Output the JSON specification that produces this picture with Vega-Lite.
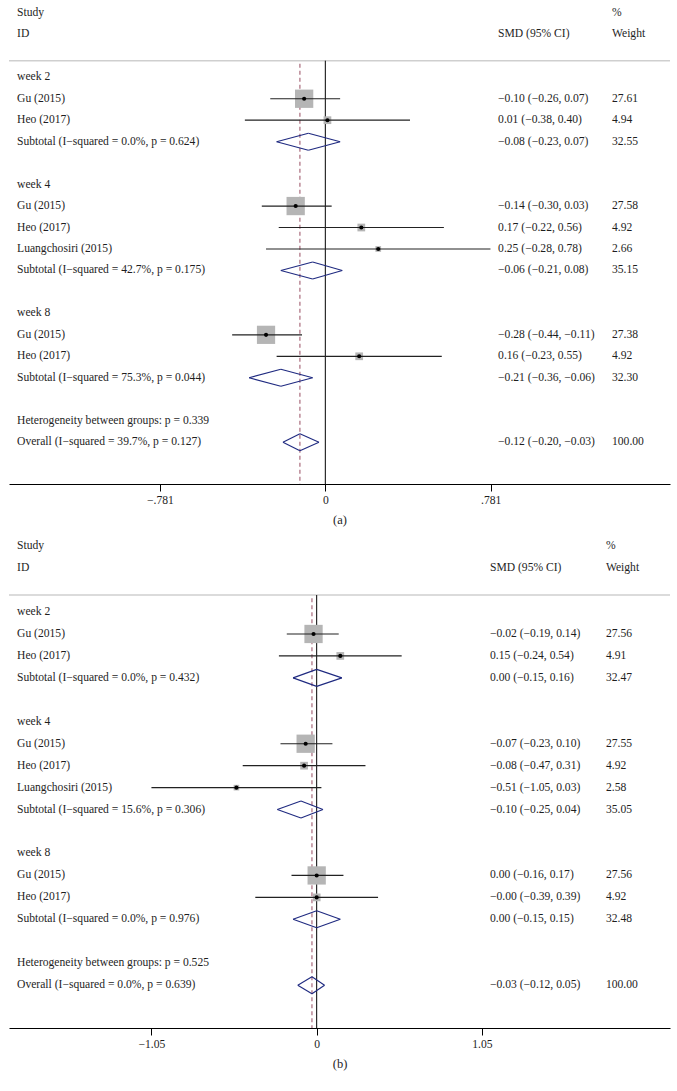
{
  "$schema": "https://vega.github.io/schema/vega-lite/v6.json",
  "background": "white",
  "padding": {"left": 8, "top": 0, "right": 8, "bottom": 0},
  "spacing": 6,
  "config": {
    "font": "Liberation Serif",
    "view": {"stroke": null},
    "text": {"font": "Liberation Serif", "fontSize": 11.6, "color": "#1e1e1e", "baseline": "middle", "align": "left"},
    "axisX": {"domainColor": "#000", "domainWidth": 1, "tickColor": "#000", "tickSize": 7, "tickWidth": 1, "labelFont": "Liberation Serif", "labelFontSize": 11.6, "labelColor": "#1e1e1e", "labelPadding": 3, "labelFlush": false, "titleFont": "Liberation Serif", "titleFontSize": 12.5, "titleFontWeight": "normal", "titleColor": "#1e1e1e", "titlePadding": 8, "grid": false}
  },
  "datasets": {
    "a": [
      {"row": -2, "id": "Study", "smd": "", "wt": "%", "type": "head"},
      {"row": -1, "id": "ID", "smd": "SMD (95% CI)", "wt": "Weight", "type": "head"},
      {"row": 1, "id": "week 2", "smd": "", "wt": "", "type": "group"},
      {"row": 2, "id": "Gu (2015)", "type": "study", "est": -0.10, "lo": -0.26, "hi": 0.07, "w": 27.61, "smd": "−0.10 (−0.26, 0.07)", "wt": "27.61"},
      {"row": 3, "id": "Heo (2017)", "type": "study", "est": 0.01, "lo": -0.38, "hi": 0.40, "w": 4.94, "smd": "0.01 (−0.38, 0.40)", "wt": "4.94"},
      {"row": 4, "id": "Subtotal (I−squared = 0.0%, p = 0.624)", "type": "subtotal", "est": -0.08, "lo": -0.23, "hi": 0.07, "w": 32.55, "smd": "−0.08 (−0.23, 0.07)", "wt": "32.55"},
      {"row": 6, "id": "week 4", "smd": "", "wt": "", "type": "group"},
      {"row": 7, "id": "Gu (2015)", "type": "study", "est": -0.14, "lo": -0.30, "hi": 0.03, "w": 27.58, "smd": "−0.14 (−0.30, 0.03)", "wt": "27.58"},
      {"row": 8, "id": "Heo (2017)", "type": "study", "est": 0.17, "lo": -0.22, "hi": 0.56, "w": 4.92, "smd": "0.17 (−0.22, 0.56)", "wt": "4.92"},
      {"row": 9, "id": "Luangchosiri (2015)", "type": "study", "est": 0.25, "lo": -0.28, "hi": 0.78, "w": 2.66, "smd": "0.25 (−0.28, 0.78)", "wt": "2.66"},
      {"row": 10, "id": "Subtotal (I−squared = 42.7%, p = 0.175)", "type": "subtotal", "est": -0.06, "lo": -0.21, "hi": 0.08, "w": 35.15, "smd": "−0.06 (−0.21, 0.08)", "wt": "35.15"},
      {"row": 12, "id": "week 8", "smd": "", "wt": "", "type": "group"},
      {"row": 13, "id": "Gu (2015)", "type": "study", "est": -0.28, "lo": -0.44, "hi": -0.11, "w": 27.38, "smd": "−0.28 (−0.44, −0.11)", "wt": "27.38"},
      {"row": 14, "id": "Heo (2017)", "type": "study", "est": 0.16, "lo": -0.23, "hi": 0.55, "w": 4.92, "smd": "0.16 (−0.23, 0.55)", "wt": "4.92"},
      {"row": 15, "id": "Subtotal (I−squared = 75.3%, p = 0.044)", "type": "subtotal", "est": -0.21, "lo": -0.36, "hi": -0.06, "w": 32.30, "smd": "−0.21 (−0.36, −0.06)", "wt": "32.30"},
      {"row": 17, "id": "Heterogeneity between groups: p = 0.339", "smd": "", "wt": "", "type": "het"},
      {"row": 18, "id": "Overall (I−squared = 39.7%, p = 0.127)", "type": "overall", "est": -0.12, "lo": -0.20, "hi": -0.03, "w": 100.00, "smd": "−0.12 (−0.20, −0.03)", "wt": "100.00"}
    ],
    "b": [
      {"row": -2, "id": "Study", "smd": "", "wt": "%", "type": "head"},
      {"row": -1, "id": "ID", "smd": "SMD (95% CI)", "wt": "Weight", "type": "head"},
      {"row": 1, "id": "week 2", "smd": "", "wt": "", "type": "group"},
      {"row": 2, "id": "Gu (2015)", "type": "study", "est": -0.02, "lo": -0.19, "hi": 0.14, "w": 27.56, "smd": "−0.02 (−0.19, 0.14)", "wt": "27.56"},
      {"row": 3, "id": "Heo (2017)", "type": "study", "est": 0.15, "lo": -0.24, "hi": 0.54, "w": 4.91, "smd": "0.15 (−0.24, 0.54)", "wt": "4.91"},
      {"row": 4, "id": "Subtotal (I−squared = 0.0%, p = 0.432)", "type": "subtotal", "est": 0.00, "lo": -0.15, "hi": 0.16, "w": 32.47, "smd": "0.00 (−0.15, 0.16)", "wt": "32.47"},
      {"row": 6, "id": "week 4", "smd": "", "wt": "", "type": "group"},
      {"row": 7, "id": "Gu (2015)", "type": "study", "est": -0.07, "lo": -0.23, "hi": 0.10, "w": 27.55, "smd": "−0.07 (−0.23, 0.10)", "wt": "27.55"},
      {"row": 8, "id": "Heo (2017)", "type": "study", "est": -0.08, "lo": -0.47, "hi": 0.31, "w": 4.92, "smd": "−0.08 (−0.47, 0.31)", "wt": "4.92"},
      {"row": 9, "id": "Luangchosiri (2015)", "type": "study", "est": -0.51, "lo": -1.05, "hi": 0.03, "w": 2.58, "smd": "−0.51 (−1.05, 0.03)", "wt": "2.58"},
      {"row": 10, "id": "Subtotal (I−squared = 15.6%, p = 0.306)", "type": "subtotal", "est": -0.10, "lo": -0.25, "hi": 0.04, "w": 35.05, "smd": "−0.10 (−0.25, 0.04)", "wt": "35.05"},
      {"row": 12, "id": "week 8", "smd": "", "wt": "", "type": "group"},
      {"row": 13, "id": "Gu (2015)", "type": "study", "est": 0.00, "lo": -0.16, "hi": 0.17, "w": 27.56, "smd": "0.00 (−0.16, 0.17)", "wt": "27.56"},
      {"row": 14, "id": "Heo (2017)", "type": "study", "est": -0.00, "lo": -0.39, "hi": 0.39, "w": 4.92, "smd": "−0.00 (−0.39, 0.39)", "wt": "4.92"},
      {"row": 15, "id": "Subtotal (I−squared = 0.0%, p = 0.976)", "type": "subtotal", "est": 0.00, "lo": -0.15, "hi": 0.15, "w": 32.48, "smd": "0.00 (−0.15, 0.15)", "wt": "32.48"},
      {"row": 17, "id": "Heterogeneity between groups: p = 0.525", "smd": "", "wt": "", "type": "het"},
      {"row": 18, "id": "Overall (I−squared = 0.0%, p = 0.639)", "type": "overall", "est": -0.03, "lo": -0.12, "hi": 0.05, "w": 100.00, "smd": "−0.03 (−0.12, 0.05)", "wt": "100.00"}
    ]
  },
  "vconcat": [
    {
      "width": 661,
      "height": 484,
      "data": {"name": "a"},
      "layer": [
        {
          "data": {"values": [{}]},
          "mark": {"type": "rule", "color": "#cfcfcf", "strokeWidth": 1.5},
          "encoding": {
            "y": {"datum": 0.227, "type": "quantitative", "scale": {"domain": [-2.6, 19.95], "reverse": true, "nice": false, "zero": false}, "axis": null}
          }
        },
        {
          "data": {"values": [{}]},
          "mark": {"type": "rule", "color": "#000", "strokeWidth": 1},
          "encoding": {
            "x": {"datum": 0, "type": "quantitative", "scale": {"domain": [-1.494, 1.628], "nice": false, "zero": false}, "axis": {"values": [-0.781, 0, 0.781], "labelExpr": "datum.value < 0 ? '−.781' : (datum.value > 0 ? '.781' : '0')", "title": "(a)"}},
            "y": {"datum": 0.227, "type": "quantitative", "scale": {"domain": [-2.6, 19.95], "reverse": true, "nice": false, "zero": false}, "axis": null},
            "y2": {"datum": 19.95}
          }
        },
        {
          "transform": [{"filter": "datum.type === 'overall'"}],
          "mark": {"type": "rule", "color": "#a96a7c", "strokeWidth": 1.2, "strokeDash": [4, 3]},
          "encoding": {
            "x": {"field": "est", "type": "quantitative", "scale": {"domain": [-1.494, 1.628], "nice": false, "zero": false}, "axis": {"values": [-0.781, 0, 0.781], "labelExpr": "datum.value < 0 ? '−.781' : (datum.value > 0 ? '.781' : '0')", "title": "(a)"}},
            "y": {"datum": 0.37, "type": "quantitative", "scale": {"domain": [-2.6, 19.95], "reverse": true, "nice": false, "zero": false}, "axis": null},
            "y2": {"datum": 19.95}
          }
        },
        {
          "transform": [{"filter": "datum.type === 'study'"}],
          "mark": {"type": "point", "shape": "square", "filled": true, "color": "#b5b5b5", "opacity": 1},
          "encoding": {
            "x": {"field": "est", "type": "quantitative", "scale": {"domain": [-1.494, 1.628], "nice": false, "zero": false}, "axis": {"values": [-0.781, 0, 0.781], "labelExpr": "datum.value < 0 ? '−.781' : (datum.value > 0 ? '.781' : '0')", "title": "(a)"}},
            "y": {"field": "row", "type": "quantitative", "scale": {"domain": [-2.6, 19.95], "reverse": true, "nice": false, "zero": false}, "axis": null},
            "size": {"field": "w", "type": "quantitative", "scale": {"type": "linear", "domain": [0, 100], "range": [0, 1213], "zero": true}, "legend": null}
          }
        },
        {
          "transform": [{"filter": "datum.type === 'study'"}],
          "mark": {"type": "rule", "color": "#222", "strokeWidth": 1.2},
          "encoding": {
            "x": {"field": "lo", "type": "quantitative", "scale": {"domain": [-1.494, 1.628], "nice": false, "zero": false}, "axis": {"values": [-0.781, 0, 0.781], "labelExpr": "datum.value < 0 ? '−.781' : (datum.value > 0 ? '.781' : '0')", "title": "(a)"}},
            "x2": {"field": "hi"},
            "y": {"field": "row", "type": "quantitative", "scale": {"domain": [-2.6, 19.95], "reverse": true, "nice": false, "zero": false}, "axis": null}
          }
        },
        {
          "transform": [{"filter": "datum.type === 'study'"}],
          "mark": {"type": "point", "shape": "circle", "filled": true, "color": "#000", "opacity": 1, "size": 17},
          "encoding": {
            "x": {"field": "est", "type": "quantitative", "scale": {"domain": [-1.494, 1.628], "nice": false, "zero": false}, "axis": {"values": [-0.781, 0, 0.781], "labelExpr": "datum.value < 0 ? '−.781' : (datum.value > 0 ? '.781' : '0')", "title": "(a)"}},
            "y": {"field": "row", "type": "quantitative", "scale": {"domain": [-2.6, 19.95], "reverse": true, "nice": false, "zero": false}, "axis": null}
          }
        },
        {
          "transform": [{"filter": "datum.type === 'subtotal' || datum.type === 'overall'"}],
          "mark": {"type": "rule", "color": "#1f2a80", "strokeWidth": 1.1, "y2Offset": -8.5},
          "encoding": {
            "x": {"field": "lo", "type": "quantitative", "scale": {"domain": [-1.494, 1.628], "nice": false, "zero": false}, "axis": {"values": [-0.781, 0, 0.781], "labelExpr": "datum.value < 0 ? '−.781' : (datum.value > 0 ? '.781' : '0')", "title": "(a)"}},
            "x2": {"field": "est"},
            "y": {"field": "row", "type": "quantitative", "scale": {"domain": [-2.6, 19.95], "reverse": true, "nice": false, "zero": false}, "axis": null},
            "y2": {"field": "row"}
          }
        },
        {
          "transform": [{"filter": "datum.type === 'subtotal' || datum.type === 'overall'"}],
          "mark": {"type": "rule", "color": "#1f2a80", "strokeWidth": 1.1, "yOffset": -8.5},
          "encoding": {
            "x": {"field": "est", "type": "quantitative", "scale": {"domain": [-1.494, 1.628], "nice": false, "zero": false}, "axis": {"values": [-0.781, 0, 0.781], "labelExpr": "datum.value < 0 ? '−.781' : (datum.value > 0 ? '.781' : '0')", "title": "(a)"}},
            "x2": {"field": "hi"},
            "y": {"field": "row", "type": "quantitative", "scale": {"domain": [-2.6, 19.95], "reverse": true, "nice": false, "zero": false}, "axis": null},
            "y2": {"field": "row"}
          }
        },
        {
          "transform": [{"filter": "datum.type === 'subtotal' || datum.type === 'overall'"}],
          "mark": {"type": "rule", "color": "#1f2a80", "strokeWidth": 1.1, "y2Offset": 8.5},
          "encoding": {
            "x": {"field": "hi", "type": "quantitative", "scale": {"domain": [-1.494, 1.628], "nice": false, "zero": false}, "axis": {"values": [-0.781, 0, 0.781], "labelExpr": "datum.value < 0 ? '−.781' : (datum.value > 0 ? '.781' : '0')", "title": "(a)"}},
            "x2": {"field": "est"},
            "y": {"field": "row", "type": "quantitative", "scale": {"domain": [-2.6, 19.95], "reverse": true, "nice": false, "zero": false}, "axis": null},
            "y2": {"field": "row"}
          }
        },
        {
          "transform": [{"filter": "datum.type === 'subtotal' || datum.type === 'overall'"}],
          "mark": {"type": "rule", "color": "#1f2a80", "strokeWidth": 1.1, "yOffset": 8.5},
          "encoding": {
            "x": {"field": "est", "type": "quantitative", "scale": {"domain": [-1.494, 1.628], "nice": false, "zero": false}, "axis": {"values": [-0.781, 0, 0.781], "labelExpr": "datum.value < 0 ? '−.781' : (datum.value > 0 ? '.781' : '0')", "title": "(a)"}},
            "x2": {"field": "lo"},
            "y": {"field": "row", "type": "quantitative", "scale": {"domain": [-2.6, 19.95], "reverse": true, "nice": false, "zero": false}, "axis": null},
            "y2": {"field": "row"}
          }
        },
        {
          "mark": {"type": "text"},
          "encoding": {
            "x": {"datum": -1.456, "type": "quantitative", "scale": {"domain": [-1.494, 1.628], "nice": false, "zero": false}, "axis": {"values": [-0.781, 0, 0.781], "labelExpr": "datum.value < 0 ? '−.781' : (datum.value > 0 ? '.781' : '0')", "title": "(a)"}},
            "y": {"field": "row", "type": "quantitative", "scale": {"domain": [-2.6, 19.95], "reverse": true, "nice": false, "zero": false}, "axis": null},
            "text": {"field": "id"}
          }
        },
        {
          "mark": {"type": "text"},
          "encoding": {
            "x": {"datum": 0.816, "type": "quantitative", "scale": {"domain": [-1.494, 1.628], "nice": false, "zero": false}, "axis": {"values": [-0.781, 0, 0.781], "labelExpr": "datum.value < 0 ? '−.781' : (datum.value > 0 ? '.781' : '0')", "title": "(a)"}},
            "y": {"field": "row", "type": "quantitative", "scale": {"domain": [-2.6, 19.95], "reverse": true, "nice": false, "zero": false}, "axis": null},
            "text": {"field": "smd"}
          }
        },
        {
          "mark": {"type": "text"},
          "encoding": {
            "x": {"datum": 1.354, "type": "quantitative", "scale": {"domain": [-1.494, 1.628], "nice": false, "zero": false}, "axis": {"values": [-0.781, 0, 0.781], "labelExpr": "datum.value < 0 ? '−.781' : (datum.value > 0 ? '.781' : '0')", "title": "(a)"}},
            "y": {"field": "row", "type": "quantitative", "scale": {"domain": [-2.6, 19.95], "reverse": true, "nice": false, "zero": false}, "axis": null},
            "text": {"field": "wt"}
          }
        }
      ]
    },
    {
      "width": 661,
      "height": 495,
      "data": {"name": "b"},
      "layer": [
        {
          "data": {"values": [{}]},
          "mark": {"type": "rule", "color": "#cfcfcf", "strokeWidth": 1.5},
          "encoding": {
            "y": {"datum": 0.227, "type": "quantitative", "scale": {"domain": [-2.6, 19.95], "reverse": true, "nice": false, "zero": false}, "axis": null}
          }
        },
        {
          "data": {"values": [{}]},
          "mark": {"type": "rule", "color": "#000", "strokeWidth": 1},
          "encoding": {
            "x": {"datum": 0, "type": "quantitative", "scale": {"domain": [-1.955, 2.245], "nice": false, "zero": false}, "axis": {"values": [-1.05, 0, 1.05], "labelExpr": "datum.value < 0 ? '−1.05' : (datum.value > 0 ? '1.05' : '0')", "title": "(b)"}},
            "y": {"datum": 0.227, "type": "quantitative", "scale": {"domain": [-2.6, 19.95], "reverse": true, "nice": false, "zero": false}, "axis": null},
            "y2": {"datum": 19.95}
          }
        },
        {
          "transform": [{"filter": "datum.type === 'overall'"}],
          "mark": {"type": "rule", "color": "#a96a7c", "strokeWidth": 1.2, "strokeDash": [4, 3]},
          "encoding": {
            "x": {"field": "est", "type": "quantitative", "scale": {"domain": [-1.955, 2.245], "nice": false, "zero": false}, "axis": {"values": [-1.05, 0, 1.05], "labelExpr": "datum.value < 0 ? '−1.05' : (datum.value > 0 ? '1.05' : '0')", "title": "(b)"}},
            "y": {"datum": 0.37, "type": "quantitative", "scale": {"domain": [-2.6, 19.95], "reverse": true, "nice": false, "zero": false}, "axis": null},
            "y2": {"datum": 19.95}
          }
        },
        {
          "transform": [{"filter": "datum.type === 'study'"}],
          "mark": {"type": "point", "shape": "square", "filled": true, "color": "#b5b5b5", "opacity": 1},
          "encoding": {
            "x": {"field": "est", "type": "quantitative", "scale": {"domain": [-1.955, 2.245], "nice": false, "zero": false}, "axis": {"values": [-1.05, 0, 1.05], "labelExpr": "datum.value < 0 ? '−1.05' : (datum.value > 0 ? '1.05' : '0')", "title": "(b)"}},
            "y": {"field": "row", "type": "quantitative", "scale": {"domain": [-2.6, 19.95], "reverse": true, "nice": false, "zero": false}, "axis": null},
            "size": {"field": "w", "type": "quantitative", "scale": {"type": "linear", "domain": [0, 100], "range": [0, 1213], "zero": true}, "legend": null}
          }
        },
        {
          "transform": [{"filter": "datum.type === 'study'"}],
          "mark": {"type": "rule", "color": "#222", "strokeWidth": 1.2},
          "encoding": {
            "x": {"field": "lo", "type": "quantitative", "scale": {"domain": [-1.955, 2.245], "nice": false, "zero": false}, "axis": {"values": [-1.05, 0, 1.05], "labelExpr": "datum.value < 0 ? '−1.05' : (datum.value > 0 ? '1.05' : '0')", "title": "(b)"}},
            "x2": {"field": "hi"},
            "y": {"field": "row", "type": "quantitative", "scale": {"domain": [-2.6, 19.95], "reverse": true, "nice": false, "zero": false}, "axis": null}
          }
        },
        {
          "transform": [{"filter": "datum.type === 'study'"}],
          "mark": {"type": "point", "shape": "circle", "filled": true, "color": "#000", "opacity": 1, "size": 17},
          "encoding": {
            "x": {"field": "est", "type": "quantitative", "scale": {"domain": [-1.955, 2.245], "nice": false, "zero": false}, "axis": {"values": [-1.05, 0, 1.05], "labelExpr": "datum.value < 0 ? '−1.05' : (datum.value > 0 ? '1.05' : '0')", "title": "(b)"}},
            "y": {"field": "row", "type": "quantitative", "scale": {"domain": [-2.6, 19.95], "reverse": true, "nice": false, "zero": false}, "axis": null}
          }
        },
        {
          "transform": [{"filter": "datum.type === 'subtotal' || datum.type === 'overall'"}],
          "mark": {"type": "rule", "color": "#1f2a80", "strokeWidth": 1.1, "y2Offset": -8.5},
          "encoding": {
            "x": {"field": "lo", "type": "quantitative", "scale": {"domain": [-1.955, 2.245], "nice": false, "zero": false}, "axis": {"values": [-1.05, 0, 1.05], "labelExpr": "datum.value < 0 ? '−1.05' : (datum.value > 0 ? '1.05' : '0')", "title": "(b)"}},
            "x2": {"field": "est"},
            "y": {"field": "row", "type": "quantitative", "scale": {"domain": [-2.6, 19.95], "reverse": true, "nice": false, "zero": false}, "axis": null},
            "y2": {"field": "row"}
          }
        },
        {
          "transform": [{"filter": "datum.type === 'subtotal' || datum.type === 'overall'"}],
          "mark": {"type": "rule", "color": "#1f2a80", "strokeWidth": 1.1, "yOffset": -8.5},
          "encoding": {
            "x": {"field": "est", "type": "quantitative", "scale": {"domain": [-1.955, 2.245], "nice": false, "zero": false}, "axis": {"values": [-1.05, 0, 1.05], "labelExpr": "datum.value < 0 ? '−1.05' : (datum.value > 0 ? '1.05' : '0')", "title": "(b)"}},
            "x2": {"field": "hi"},
            "y": {"field": "row", "type": "quantitative", "scale": {"domain": [-2.6, 19.95], "reverse": true, "nice": false, "zero": false}, "axis": null},
            "y2": {"field": "row"}
          }
        },
        {
          "transform": [{"filter": "datum.type === 'subtotal' || datum.type === 'overall'"}],
          "mark": {"type": "rule", "color": "#1f2a80", "strokeWidth": 1.1, "y2Offset": 8.5},
          "encoding": {
            "x": {"field": "hi", "type": "quantitative", "scale": {"domain": [-1.955, 2.245], "nice": false, "zero": false}, "axis": {"values": [-1.05, 0, 1.05], "labelExpr": "datum.value < 0 ? '−1.05' : (datum.value > 0 ? '1.05' : '0')", "title": "(b)"}},
            "x2": {"field": "est"},
            "y": {"field": "row", "type": "quantitative", "scale": {"domain": [-2.6, 19.95], "reverse": true, "nice": false, "zero": false}, "axis": null},
            "y2": {"field": "row"}
          }
        },
        {
          "transform": [{"filter": "datum.type === 'subtotal' || datum.type === 'overall'"}],
          "mark": {"type": "rule", "color": "#1f2a80", "strokeWidth": 1.1, "yOffset": 8.5},
          "encoding": {
            "x": {"field": "est", "type": "quantitative", "scale": {"domain": [-1.955, 2.245], "nice": false, "zero": false}, "axis": {"values": [-1.05, 0, 1.05], "labelExpr": "datum.value < 0 ? '−1.05' : (datum.value > 0 ? '1.05' : '0')", "title": "(b)"}},
            "x2": {"field": "lo"},
            "y": {"field": "row", "type": "quantitative", "scale": {"domain": [-2.6, 19.95], "reverse": true, "nice": false, "zero": false}, "axis": null},
            "y2": {"field": "row"}
          }
        },
        {
          "mark": {"type": "text"},
          "encoding": {
            "x": {"datum": -1.904, "type": "quantitative", "scale": {"domain": [-1.955, 2.245], "nice": false, "zero": false}, "axis": {"values": [-1.05, 0, 1.05], "labelExpr": "datum.value < 0 ? '−1.05' : (datum.value > 0 ? '1.05' : '0')", "title": "(b)"}},
            "y": {"field": "row", "type": "quantitative", "scale": {"domain": [-2.6, 19.95], "reverse": true, "nice": false, "zero": false}, "axis": null},
            "text": {"field": "id"}
          }
        },
        {
          "mark": {"type": "text"},
          "encoding": {
            "x": {"datum": 1.101, "type": "quantitative", "scale": {"domain": [-1.955, 2.245], "nice": false, "zero": false}, "axis": {"values": [-1.05, 0, 1.05], "labelExpr": "datum.value < 0 ? '−1.05' : (datum.value > 0 ? '1.05' : '0')", "title": "(b)"}},
            "y": {"field": "row", "type": "quantitative", "scale": {"domain": [-2.6, 19.95], "reverse": true, "nice": false, "zero": false}, "axis": null},
            "text": {"field": "smd"}
          }
        },
        {
          "mark": {"type": "text"},
          "encoding": {
            "x": {"datum": 1.838, "type": "quantitative", "scale": {"domain": [-1.955, 2.245], "nice": false, "zero": false}, "axis": {"values": [-1.05, 0, 1.05], "labelExpr": "datum.value < 0 ? '−1.05' : (datum.value > 0 ? '1.05' : '0')", "title": "(b)"}},
            "y": {"field": "row", "type": "quantitative", "scale": {"domain": [-2.6, 19.95], "reverse": true, "nice": false, "zero": false}, "axis": null},
            "text": {"field": "wt"}
          }
        }
      ]
    }
  ]
}
